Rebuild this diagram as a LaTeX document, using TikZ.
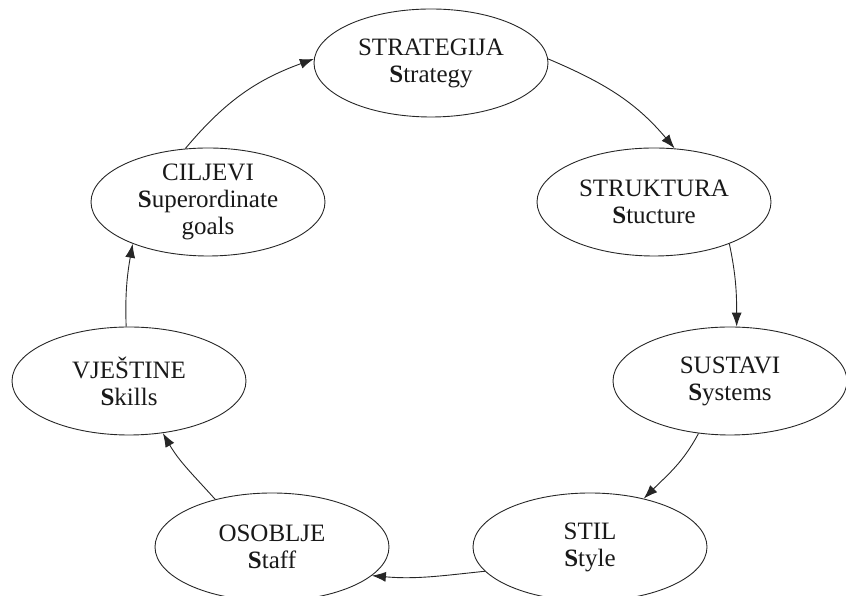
\documentclass[tikz,border=0pt]{standalone}
\usepackage{fontspec}
\setmainfont{Liberation Serif}
\usetikzlibrary{shapes.geometric,arrows.meta}
\begin{document}
\begin{tikzpicture}[x=1pt,y=1pt,
  ell/.style={ellipse,draw=black!85,line width=0.9pt,minimum width=234pt,minimum height=108pt,inner sep=0pt},
  lbl/.style={align=center,font=\fontsize{25}{27}\selectfont,text=black!90,inner sep=0pt},
  con/.style={draw=black!85,line width=0.9pt,-{Latex[length=14pt,width=10pt]}}]
\useasboundingbox (0,0) rectangle (846,596);
\node[ell] (str) at (431,533) {};
\node[ell] (stk) at (654,394) {};
\node[ell] (sus) at (730,215) {};
\node[ell] (sti) at (590,49) {};
\node[ell] (oso) at (272,49) {};
\node[ell] (vje) at (129,215) {};
\node[ell] (cil) at (208,394) {};
\node[lbl] (strT) at (str) {STRATEGIJA\\\textbf{S}trategy};
\node[lbl] (stkT) at (stk) {STRUKTURA\\\textbf{S}tucture};
\node[lbl] (susT) at (sus) {SUSTAVI\\\textbf{S}ystems};
\node[lbl] (stiT) at (sti) {STIL\\\textbf{S}tyle};
\node[lbl] (osoT) at (oso) {OSOBLJE\\\textbf{S}taff};
\node[lbl] (vjeT) at (vje) {VJEŠTINE\\\textbf{S}kills};
\node[lbl] (cilT) at (cil) {CILJEVI\\\textbf{S}uperordinate\\goals};
\draw[con] (str.2) to[out=-23,in=130] (stk.69);
\draw[con] (stk.-29) to[out=-78,in=90] (sus.83);
\draw[con] (sus.-121) to[out=-118,in=45] (sti.42);
\draw[con] (sti.-167) to[out=186,in=-5] (oso.-16);
\draw[con] (oso.140) to[out=132,in=-60] (vje.-57);
\draw[con] (vje.93) to[out=92,in=-100] (cil.-151);
\draw[con] (cil.113) to[out=50,in=-160] (str.178);
\end{tikzpicture}
\end{document}
